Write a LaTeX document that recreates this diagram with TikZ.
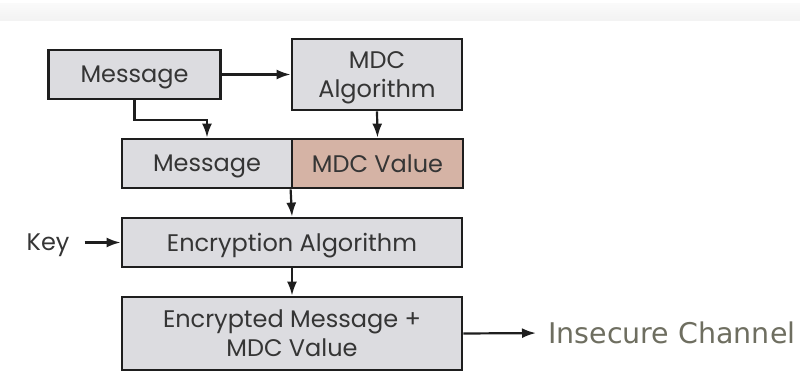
\documentclass[tikz,border=0pt]{standalone}
\usepackage{fontspec}
\setmainfont{Poppins}
\newfontfamily\chanfont{DejaVu Sans}
\usetikzlibrary{positioning,arrows.meta}
\definecolor{boxgray}{HTML}{DCDCE0}
\definecolor{valrose}{HTML}{D5B3A5}
\definecolor{ink}{HTML}{1E1E1E}
\definecolor{chan}{HTML}{6E6E60}

\begin{document}
\begin{tikzpicture}[x=1pt,y=-1pt,
  blk/.style={draw=ink,line width=2.8pt,fill=boxgray,inner sep=0pt,align=center,
    text=ink!90,text depth=0pt,font=\fontsize{24}{29}\selectfont},
  arr/.style={draw=ink,line width=2.2pt,-{Latex[length=14pt,width=10pt]}}]
\useasboundingbox (0,0) rectangle (800,371);
\shade[top color=black!2,bottom color=black!5] (0,4) rectangle (800,21);
% top row
\node[blk,minimum width=172pt,minimum height=49pt] (msg) at (134.5,74.5) {Message};
\node[blk,minimum width=170pt,minimum height=71pt] (mdc) at (377,74.5) {MDC\\Algorithm};
% message + digest
\node[blk,minimum width=170pt,minimum height=49pt] (cell) at (207,163.5) {Message};
\node[blk,fill=valrose,minimum width=171pt,minimum height=49pt] (val) at (377.5,163.5) {MDC Value};
% encryption
\node[blk,minimum width=340pt,minimum height=49pt] (enc) at (292,242.5) {Encryption Algorithm};
\node[font=\fontsize{24}{29}\selectfont,text=ink!90,text depth=0pt,inner sep=0pt,left=51pt of enc] (key) {Key};
\node[blk,minimum width=340pt,minimum height=73pt] (out) at (292,333.5) {Encrypted Message +\\MDC Value};
\node[font=\chanfont\fontsize{28.5}{32}\selectfont,text=chan,inner sep=0pt,anchor=west] (chan) at (548,333) {Insecure Channel};
% connectors
\draw[arr] (msg.east) -- (mdc.west |- msg.east);
\draw[arr] (msg.south) -- ++(0,20) -| (cell.north);
\draw[arr] (mdc.south) -- (val.north);
\draw[arr] (val.south west) -- (enc.north);
\draw[arr,shorten <=15pt] (key) -- (enc);
\draw[arr] (enc.south) -- (out.north);
\draw[arr,shorten >=12pt] (out.east) -- (chan.west);
\end{tikzpicture}
\end{document}
